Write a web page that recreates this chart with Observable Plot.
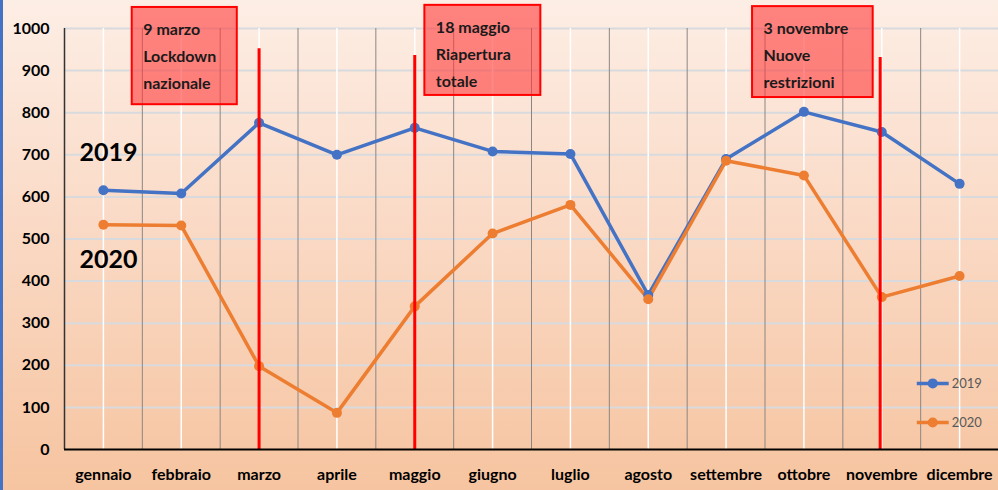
<!DOCTYPE html>
<html>
<head>
<meta charset="utf-8">
<script src="https://cdn.jsdelivr.net/npm/d3@7"></script>
<script src="https://cdn.jsdelivr.net/npm/@observablehq/plot@0.6"></script>
<style>
  html, body { margin: 0; padding: 0; }
  body {
    width: 998px; height: 490px; overflow: hidden; position: relative;
    background: linear-gradient(to bottom, #fdeee5 0%, #fadac6 45%, #f6c4a0 100%);
    font-family: Lato, "Open Sans", sans-serif;
  }
  #edge { position: absolute; left: 0; top: 0; width: 3px; height: 490px; background: #4472c4; }
  #chart { position: absolute; left: 0; top: 0; }
</style>
</head>
<body>
<div id="edge"></div>
<div id="chart"></div>
<script>
// ---- data ----
const months = ["gennaio","febbraio","marzo","aprile","maggio","giugno","luglio","agosto","settembre","ottobre","novembre","dicembre"];
const values2019 = [616, 608, 776, 700, 764, 708, 702, 367, 690, 802, 754, 631];
const values2020 = [534, 532, 198, 87, 340, 513, 581, 357, 686, 651, 362, 412];
const yTicks = [0, 100, 200, 300, 400, 500, 600, 700, 800, 900, 1000];
const seriesNames = ["2019", "2020"];
const seriesColors = ["#4472c4", "#ed7d31"];

// events (month index, top of red line)
const eventMonth = [2, 4, 9.98];
const eventTop = [952, 936, 931];
const eventText = ["9 marzo\nLockdown\nnazionale", "18 maggio\nRiapertura\ntotale", "3 novembre\nNuove\nrestrizioni"];
const boxX1 = [0.37, 4.13, 8.34];
const boxX2 = [1.72, 5.62, 9.89];
const boxTop = [1050, 1055, 1052];
const boxBottom = [819, 841, 836];

// side labels
const sideLabelY = [705, 449];
// legend
const legendY = [157, 64];
const legendX1 = 10.45, legendX2 = 10.86;

// ---- tables ----
const idx = months.map((m, i) => i);
const table = months.flatMap((m, i) => [
  {i, series: "2019", v: values2019[i]},
  {i, series: "2020", v: values2020[i]}
]);
const events = eventMonth.map((m, k) => ({m, top: eventTop[k], text: eventText[k], x1: boxX1[k], x2: boxX2[k], y1: boxBottom[k], y2: boxTop[k]}));
const legend = seriesNames.map((s, k) => ({s, y: legendY[k], color: seriesColors[k]}));
const side = seriesNames.map((s, k) => ({s, y: sideLabelY[k]}));

const colorOf = s => seriesColors[seriesNames.indexOf(s)];

const chart = Plot.plot({
  width: 998,
  height: 490,
  marginLeft: 64,
  marginRight: 0,
  marginTop: 28,
  marginBottom: 41,
  style: {background: "transparent", color: "black", fontFamily: "Lato, sans-serif", overflow: "visible"},
  x: {domain: [-0.5, 11.5], axis: null},
  y: {domain: [0, 1000], axis: null},
  marks: [
    // horizontal grid
    Plot.ruleY(yTicks.filter(t => t > 0), {stroke: "#d8dade", strokeWidth: 2}),
    // vertical grid: white at category centers, grey at boundaries
    Plot.ruleX(idx, {y1: 0, y2: 1000, stroke: "#ffffff", strokeWidth: 1.5}),
    Plot.ruleX(idx.slice(1).map(i => i - 0.5), {y1: 0, y2: 1000, stroke: "#8c8683", strokeWidth: 1}),
    // left axis line
    Plot.ruleX([-0.5], {y1: 0, y2: 1000, stroke: "#333", strokeWidth: 1.5}),
    // annotation boxes
    Plot.rect(events, {x1: "x1", x2: "x2", y1: "y1", y2: "y2", fill: "#ff3b3b", fillOpacity: 0.6, stroke: "#ff0000", strokeWidth: 2}),
    Plot.text(events, {x: "x1", y: "y2", text: "text", textAnchor: "start", lineAnchor: "top", dx: 11, dy: 8, fontSize: 16, fontWeight: "bold", lineHeight: 1.7, fill: "#1a1a1a"}),
    // series lines
    Plot.line(table, {x: "i", y: "v", z: "series", stroke: d => colorOf(d.series), strokeWidth: 3.5}),
    Plot.dot(table, {x: "i", y: "v", fill: d => colorOf(d.series), r: 5}),
    // red event lines
    Plot.ruleX(events, {x: "m", y1: 0, y2: "top", stroke: "#ff0000", strokeWidth: 3}),
    // bottom axis line
    Plot.ruleY([0], {stroke: "#000", strokeWidth: 2}),
    // axes
    Plot.axisY(yTicks, {tickSize: 0, tickPadding: 15, tickFormat: d => String(d), fontSize: 16, fontWeight: "bold", fill: "#000"}),
    Plot.axisX(idx, {tickSize: 0, tickPadding: 19, tickFormat: i => months[i], fontSize: 16, fontWeight: "bold", fill: "#000"}),
    // side labels
    Plot.text(side, {x: 0.065, y: "y", text: "s", fontSize: 25, fontWeight: "bold", fill: "#000"}),
    // legend
    Plot.link(legend, {x1: legendX1, x2: legendX2, y1: "y", y2: "y", stroke: "color", strokeWidth: 3.5}),
    Plot.dot(legend, {x: (legendX1 + legendX2) / 2, y: "y", fill: "color", r: 5}),
    Plot.text(legend, {x: legendX2, y: "y", text: "s", textAnchor: "start", dx: 3, fontSize: 13, fill: "#595959"})
  ]
});
document.getElementById("chart").appendChild(chart);
</script>
</body>
</html>
